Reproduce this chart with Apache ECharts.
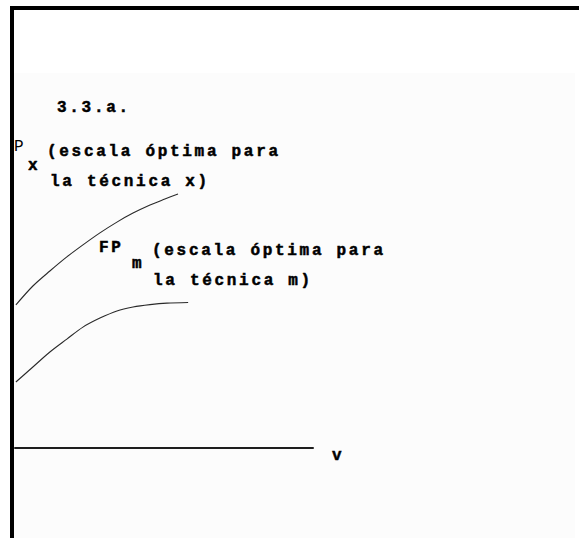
<!DOCTYPE html>
<html>
<head>
<meta charset="utf-8">
<script src="https://cdn.jsdelivr.net/npm/echarts@6/dist/echarts.min.js"></script>
<style>
  html, body { margin: 0; padding: 0; background: #ffffff; }
  #chart { width: 579px; height: 538px; }
  /* wide, typewriter-like spacing of the annotation text */
  #chart svg text { letter-spacing: 2.7px; }
</style>
</head>
<body>
<div id="chart"></div>
<script>
// Output (horizontal, 0..100) and product (vertical, 0..100) along each curve.
// Curve Px: optimal scale for technique x
const pxOutput = [0.3, 6.0, 11.7, 17.4, 22.8, 28.5, 34.2, 39.6, 45.3, 50.3, 54.7];
const pxProduct = [47.7, 54.0, 59.0, 63.7, 67.7, 71.7, 75.3, 78.3, 81.0, 83.0, 84.7];

// Curve FPm: optimal scale for technique m
const fpmOutput = [0.3, 6.0, 11.7, 17.4, 22.8, 28.5, 34.2, 39.6, 45.3, 51.0, 58.1];
const fpmProduct = [22.0, 27.0, 32.0, 36.3, 40.3, 43.3, 45.7, 47.0, 47.8, 48.3, 48.5];

const horizontalAxisName = 'v';

const figureLabel = '3.3.a.';
const pxSymbol = 'P';
const pxSubscript = 'x';
const pxLine1 = '(escala óptima para';
const pxLine2 = 'la técnica x)';
const fpmSymbol = 'FP';
const fpmSubscript = 'm';
const fpmLine1 = '(escala óptima para';
const fpmLine2 = 'la técnica m)';

function pairs(xs, ys) {
  return xs.map((x, i) => [x, ys[i]]);
}

const chart = echarts.init(document.getElementById('chart'), null, { renderer: 'svg' });

const monoFamily = "'Liberation Mono', monospace";
const boldFont = 'bold 16px ' + monoFamily;
const plainFont = '16px ' + monoFamily;

function label(text, x, y, font, heavy) {
  return {
    type: 'text',
    x: x,
    y: y,
    z: 10,
    style: {
      text: text,
      font: font || boldFont,
      fill: '#000000',
      stroke: heavy === false ? null : '#000000',
      lineWidth: heavy === false ? 0 : 0.5,
      verticalAlign: 'middle',
      align: 'left'
    }
  };
}

const lineStyle = { color: '#2a2a2a', width: 1.1 };

chart.setOption({
  backgroundColor: '#ffffff',
  animation: false,
  grid: { left: 15, top: 148, width: 298, height: 300, containLabel: false },
  xAxis: {
    type: 'value',
    min: 0,
    max: 100,
    axisLine: { show: true, lineStyle: { color: '#1e1e1e', width: 2 } },
    axisTick: { show: false },
    axisLabel: { show: false },
    splitLine: { show: false },
    name: horizontalAxisName,
    nameLocation: 'end',
    nameGap: 19,
    nameTextStyle: {
      fontFamily: monoFamily,
      fontWeight: 'bold',
      fontSize: 16,
      color: '#000000',
      verticalAlign: 'top',
      textBorderColor: '#000000',
      textBorderWidth: 0.5
    }
  },
  yAxis: {
    type: 'value',
    min: 0,
    max: 100,
    show: false
  },
  series: [
    {
      name: 'Px',
      type: 'line',
      data: pairs(pxOutput, pxProduct),
      smooth: 0.3,
      showSymbol: false,
      lineStyle: lineStyle
    },
    {
      name: 'FPm',
      type: 'line',
      data: pairs(fpmOutput, fpmProduct),
      smooth: 0.3,
      showSymbol: false,
      lineStyle: lineStyle
    }
  ],
  graphic: [
    // faint paper tone of the drawing area
    { type: 'rect', z: -10, silent: true, shape: { x: 14, y: 73, width: 561, height: 465 }, style: { fill: '#fcfcfc' } },
    // frame: top and left rules
    { type: 'rect', z: 5, silent: true, shape: { x: 10, y: 6, width: 569, height: 4 }, style: { fill: '#000000' } },
    { type: 'rect', z: 5, silent: true, shape: { x: 10, y: 6, width: 4, height: 532 }, style: { fill: '#000000' } },
    label(figureLabel, 57, 108),
    label(pxSymbol, 14, 147, plainFont, false),
    label(pxSubscript, 28, 166),
    label(pxLine1, 47, 152),
    label(pxLine2, 50, 182),
    label(fpmSymbol, 99, 248),
    label(fpmSubscript, 132, 264),
    label(fpmLine1, 152, 251),
    label(fpmLine2, 153, 281)
  ]
});
</script>
</body>
</html>
